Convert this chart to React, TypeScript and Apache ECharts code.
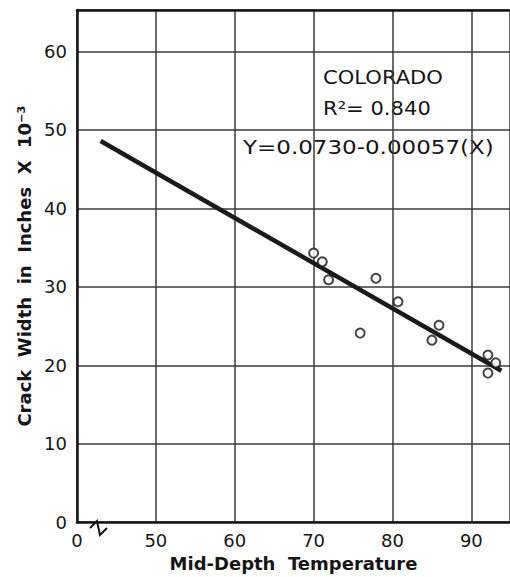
import React, { useEffect, useRef } from "react";
import * as echarts from "echarts";

// Observed data points: [mid-depth temperature, crack width x 10^-3 in]
const temperatures = [70, 71.1, 71.9, 77.9, 75.9, 80.7, 85.9, 85.0, 92.1, 93.1, 92.1];
const crackWidths = [34.3, 33.2, 30.9, 31.1, 24.1, 28.1, 25.1, 23.2, 21.3, 20.3, 19.0];

// Regression line endpoints
const fitTemps = [43.0, 93.8];
const fitWidths = [48.6, 19.3];

const xTickValues = [40, 50, 60, 70, 80, 90];
const xTickLabels = ["0", "50", "60", "70", "80", "90"];

const annotationLines = ["COLORADO", "R²= 0.840", "Y=0.0730-0.00057(X)"];

const FONT = "'DejaVu Sans', sans-serif";

export default function App() {
  const ref = useRef<HTMLDivElement>(null);

  useEffect(() => {
    if (!ref.current) return;
    const chart = echarts.init(ref.current, null, { renderer: "svg" });
    const points = temperatures.map((t, i) => [t, crackWidths[i]]);
    const fit = fitTemps.map((t, i) => [t, fitWidths[i]]);
    const ink = "#161616";

    chart.setOption({
      animation: false,
      backgroundColor: "#ffffff",
      grid: {
        left: 77,
        right: -2,
        top: 10,
        bottom: 49,
        show: false,
        containLabel: false,
      },
      xAxis: [
        {
          type: "value",
          min: 40,
          max: 94.9,
          interval: 10,
          axisLine: { show: true, lineStyle: { color: ink, width: 2.5 } },
          axisTick: { show: false },
          splitLine: { show: true, lineStyle: { color: "#3a3a3a", width: 1.5 } },
          axisLabel: {
            showMaxLabel: false,
            margin: 9,
            fontSize: 18,
            color: ink,
            fontFamily: FONT,
            formatter: (v: number) => {
              const idx = xTickValues.indexOf(v);
              return idx >= 0 ? xTickLabels[idx] : "";
            },
          },
          name: "Mid-Depth  Temperature",
          nameLocation: "middle",
          nameGap: 28,
          nameTextStyle: { fontSize: 18, fontWeight: "bold", color: ink, fontFamily: FONT },
        },
        {
          type: "value",
          position: "top",
          min: 40,
          max: 94.9,
          interval: 10,
          axisLine: { show: true, onZero: false, lineStyle: { color: ink, width: 2.5 } },
          axisTick: { show: false },
          axisLabel: { show: false },
          splitLine: { show: false },
        },
      ],
      yAxis: {
        type: "value",
        min: 0,
        max: 65.3,
        interval: 10,
        axisLine: { show: true, lineStyle: { color: ink, width: 2.5 } },
        axisTick: { show: false },
        splitLine: { show: true, lineStyle: { color: "#3a3a3a", width: 1.5 } },
        axisLabel: {
          showMaxLabel: false,
          margin: 10,
          fontSize: 18,
          color: ink,
          fontFamily: FONT,
        },
        name: "Crack  Width  in  Inches  X  10⁻³",
        nameLocation: "middle",
        nameRotate: 90,
        nameGap: 44,
        nameTextStyle: { fontSize: 18, fontWeight: "bold", color: ink, fontFamily: FONT },
      },
      series: [
        {
          type: "line",
          data: fit,
          symbol: "none",
          lineStyle: { color: "#1a1a1a", width: 4.5 },
          z: 3,
        },
        {
          type: "scatter",
          data: points,
          symbol: "circle",
          symbolSize: 9,
          itemStyle: { color: "#ffffff", borderColor: ink, borderWidth: 2 },
          z: 4,
        },
      ],
      graphic: [
        {
          type: "text",
          x: 323,
          y: 77,
          scaleX: 1.11,
          style: { text: annotationLines[0], fontSize: 19, fontFamily: FONT, fill: ink, verticalAlign: "middle" },
        },
        {
          type: "text",
          x: 323,
          y: 108,
          scaleX: 1.11,
          style: { text: annotationLines[1], fontSize: 19, fontFamily: FONT, fill: ink, verticalAlign: "middle" },
        },
        {
          type: "text",
          x: 243,
          y: 147,
          scaleX: 1.21,
          style: { text: annotationLines[2], fontSize: 19, fontFamily: FONT, fill: ink, verticalAlign: "middle" },
        },
        {
          type: "rect",
          shape: { x: 91, y: 524, width: 16, height: 8 },
          style: { fill: "#ffffff" },
          z: 100,
        },
        {
          type: "polyline",
          shape: { points: [[90, 528], [97, 521], [100, 535], [107, 528]] },
          style: { stroke: ink, lineWidth: 2, fill: "none" },
          z: 101,
        },
      ],
    });

    return () => chart.dispose();
  }, []);

  return (
    <div
      ref={ref}
      style={{ position: "absolute", left: 0, top: 0, width: 510, height: 577, background: "#fff" }}
    />
  );
}
